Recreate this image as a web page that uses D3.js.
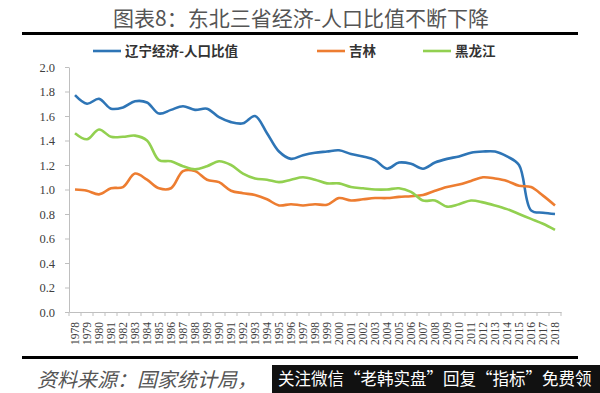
<!DOCTYPE html>
<html>
<head>
<meta charset="utf-8">
<script src="https://cdn.jsdelivr.net/npm/d3@7"></script>
<style>
  body { margin: 0; background: #fff; }
  svg { display: block; }
</style>
</head>
<body>
<svg id="chart" width="600" height="393"></svg>
<script>
// years on the category axis
const years = d3.range(1978, 2019).map(String);

// 辽宁经济-人口比值
const liaoning = [1.77, 1.70, 1.74, 1.66, 1.67, 1.72, 1.71, 1.62, 1.65, 1.68,
  1.65, 1.66, 1.59, 1.55, 1.54, 1.60, 1.46, 1.31, 1.25, 1.28,
  1.30, 1.31, 1.32, 1.29, 1.27, 1.24, 1.17, 1.22, 1.21, 1.17,
  1.22, 1.25, 1.27, 1.30, 1.31, 1.31, 1.27, 1.20, 0.83, 0.81, 0.80];

// 吉林
const jilin = [1.00, 0.99, 0.96, 1.01, 1.02, 1.13, 1.08, 1.01, 1.01, 1.15,
  1.15, 1.08, 1.06, 0.99, 0.97, 0.955, 0.92, 0.87, 0.88, 0.87,
  0.88, 0.875, 0.93, 0.91, 0.92, 0.93, 0.93, 0.94, 0.945, 0.955,
  0.99, 1.02, 1.04, 1.07, 1.10, 1.09, 1.07, 1.03, 1.02, 0.95, 0.87];

// 黑龙江
const heilongjiang = [1.46, 1.41, 1.49, 1.43, 1.43, 1.44, 1.40, 1.24, 1.23, 1.19,
  1.165, 1.19, 1.23, 1.20, 1.13, 1.09, 1.08, 1.06, 1.08, 1.10,
  1.08, 1.05, 1.05, 1.02, 1.01, 1.00, 1.00, 1.01, 0.98, 0.91,
  0.91, 0.86, 0.88, 0.91, 0.895, 0.87, 0.84, 0.80, 0.76, 0.72, 0.67];

const seriesNames = ["辽宁经济-人口比值", "吉林", "黑龙江"];
const seriesColors = ["#2e75b6", "#ed7d31", "#92d050"];
const yTicks = [0, 0.2, 0.4, 0.6, 0.8, 1.0, 1.2, 1.4, 1.6, 1.8, 2.0];

const svg = d3.select("#chart");

svg.append("rect").attr("width", 600).attr("height", 393).attr("fill", "#fff");

// title + rules
svg.append("text")
  .attr("x", 301).attr("y", 26)
  .attr("text-anchor", "middle")
  .style("font-family", "'Noto Sans CJK SC'")
  .style("font-size", "21px")
  .style("fill", "#555")
  .text("图表8：东北三省经济-人口比值不断下降");

svg.append("rect").attr("x", 22).attr("y", 32).attr("width", 556).attr("height", 3).attr("fill", "#000");
svg.append("rect").attr("x", 22).attr("y", 356).attr("width", 556).attr("height", 3).attr("fill", "#000");

/////////////////////////////////////////////////////////
// SCALES

const x = d3.scaleBand().domain(years).range([69, 561]).padding(0);
const xc = (d) => x(d) + x.bandwidth() / 2;
const y = d3.scaleLinear().domain([0, 2]).range([312, 67]);

/////////////////////////////////////////////////////////
// AXES

const yAxis = svg.append("g")
  .attr("transform", "translate(69,0)")
  .call(d3.axisLeft(y).tickValues(yTicks).tickFormat(d3.format(".1f")).tickSize(4).tickSizeOuter(0).tickPadding(10));

yAxis.select(".domain").attr("stroke", "#bfbfbf");
yAxis.selectAll(".tick line").attr("stroke", "#bfbfbf");
yAxis.selectAll("text")
  .style("font-family", "'Liberation Serif'")
  .style("font-size", "12.5px")
  .style("fill", "#404040");

const xAxis = svg.append("g")
  .attr("transform", "translate(0,312)")
  .call(d3.axisBottom(x).tickSize(0).tickSizeOuter(0));

xAxis.select(".domain").attr("stroke", "#bfbfbf");
xAxis.selectAll(".tick text")
  .attr("transform", "rotate(-90)")
  .attr("x", -10).attr("y", 0).attr("dy", "0.35em")
  .attr("text-anchor", "end")
  .style("font-family", "'Liberation Serif'")
  .style("font-size", "11.5px")
  .style("fill", "#404040");

// tick marks sit on the category boundaries
const bounds = years.map(d => x(d)).concat([x.range()[1]]);
svg.append("g").selectAll("line").data(bounds).enter().append("line")
  .attr("x1", d => d).attr("x2", d => d)
  .attr("y1", 312).attr("y2", 316)
  .attr("stroke", "#bfbfbf");

/////////////////////////////////////////////////////////
// LINES

const line = d3.line()
  .x((d, i) => xc(years[i]))
  .y(d => y(d))
  .curve(d3.curveCatmullRom.alpha(0.5));

const allSeries = [liaoning, jilin, heilongjiang];

svg.append("g").selectAll("path").data(allSeries).enter().append("path")
  .attr("d", line)
  .attr("fill", "none")
  .attr("stroke", (d, i) => seriesColors[i])
  .attr("stroke-width", 2.6)
  .attr("stroke-linejoin", "round");

/////////////////////////////////////////////////////////
// LEGEND

const legendX = [93, 317, 423];
const legend = svg.append("g").selectAll("g").data(seriesNames).enter().append("g")
  .attr("transform", (d, i) => `translate(${legendX[i]},51)`);

legend.append("line")
  .attr("x1", 0).attr("x2", 28)
  .attr("stroke", (d, i) => seriesColors[i])
  .attr("stroke-width", 2.6);

legend.append("text")
  .attr("x", 32).attr("dy", "0.36em")
  .style("font-family", "'Noto Sans CJK SC'")
  .style("font-weight", "bold")
  .style("font-size", "13.5px")
  .style("fill", "#333")
  .text(d => d);

/////////////////////////////////////////////////////////
// FOOTER

svg.append("text")
  .attr("x", 37).attr("y", 387)
  .style("font-family", "'Noto Sans CJK SC'")
  .style("font-style", "italic")
  .style("font-size", "20px")
  .style("fill", "#555")
  .text("资料来源：国家统计局，");

svg.append("rect").attr("x", 272).attr("y", 365).attr("width", 328).attr("height", 28).attr("fill", "#111");
svg.append("text")
  .attr("x", 278).attr("y", 385)
  .style("font-family", "'Noto Sans CJK SC'")
  .style("font-size", "16.5px")
  .style("fill", "#fff")
  .text("关注微信“老韩实盘”回复“指标”免费领");
</script>
</body>
</html>
